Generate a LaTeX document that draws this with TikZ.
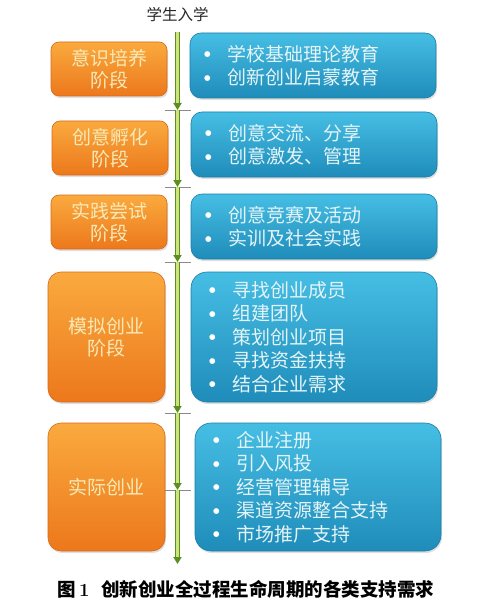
\documentclass[tikz,border=0pt]{standalone}
\usepackage{fontspec}
\newfontfamily\cjk{Noto Sans CJK SC}
\newfontfamily\djv{DejaVu Sans}
\usetikzlibrary{arrows.meta,shadows}
\definecolor{orTop}{HTML}{FAAA3E}
\definecolor{orBot}{HTML}{EC781C}
\definecolor{orEdge}{HTML}{D96A1A}
\definecolor{blTop}{HTML}{46BEE4}
\definecolor{blBot}{HTML}{1F8CBA}
\definecolor{blEdge}{HTML}{1A7EA8}
\definecolor{orText}{HTML}{F8EAB8}
\definecolor{blText}{HTML}{E4F4F7}
\definecolor{lineDark}{HTML}{5E8E22}
\definecolor{lineLight}{HTML}{CBE47C}
\definecolor{tickGray}{HTML}{8A8A8A}
\newcommand{\bul}{\makebox[23pt][l]{\raisebox{4.5pt}{\color{white}\djv\fontsize{7.5}{8}\selectfont ●}}}
\begin{document}
\begin{tikzpicture}[x=1pt,y=-1pt,
  orbox/.style={rounded corners=#1, top color=orTop, bottom color=orBot, draw=orEdge, line width=0.6pt,
    drop shadow={shadow xshift=1pt, shadow yshift=-2pt, opacity=0.25},
    text=orText, align=center, inner sep=0pt,
    font=\cjk\fontsize{19}{22}\selectfont},
  blbox/.style={rounded corners=#1, top color=blTop, bottom color=blBot, draw=blEdge, line width=0.6pt,
    drop shadow={shadow xshift=1pt, shadow yshift=-2pt, opacity=0.25},
    text=blText, align=left, inner ysep=0pt,
    font=\cjk\fontsize{19}{23.5}\selectfont},
  outerL/.style={line width=4.2pt, lineDark, -{Triangle[length=7pt,width=8pt]}},
  innerL/.style={line width=2.2pt, lineLight, shorten >=7pt},
  tickline/.style={tickGray, line width=0.7pt}
]
\useasboundingbox[fill=white] (0,0) rectangle (500,604);

\node[font=\cjk\fontsize{15.5}{16}\selectfont, text=black!85] (title) at (177.5,15) {学生入学};

% orange stage boxes
\node[orbox=8pt, minimum width=116pt, minimum height=54pt] (o1) at (109,69) {意识培养\\阶段};
\node[orbox=8pt, minimum width=116pt, minimum height=54pt] (o2) at (110,148) {创意孵化\\阶段};
\node[orbox=8pt, minimum width=116pt, minimum height=54pt] (o3) at (109,222) {实践尝试\\阶段};
\node[orbox=13pt, minimum width=117pt, minimum height=130pt] (o4) at (106.5,337) {模拟创业\\阶段};
\node[orbox=13pt, minimum width=117pt, minimum height=128pt] (o5) at (106.5,487) {实际创业};

% blue support boxes
\node[blbox=11pt, minimum width=246pt, minimum height=65pt, inner xsep=14pt, text width=218pt] (b1) at (313,65.5)
  {\bul 学校基础理论教育\\\bul 创新创业启蒙教育};
\node[blbox=11pt, minimum width=246pt, minimum height=65pt, inner xsep=14pt, text width=218pt] (b2) at (314,144.5)
  {\bul 创意交流、分享\\\bul 创意激发、管理};
\node[blbox=11pt, minimum width=246pt, minimum height=65pt, inner xsep=14pt, text width=218pt] (b3) at (314,226.5)
  {\bul 创意竞赛及活动\\\bul 实训及社会实践};
\node[blbox=16pt, minimum width=246pt, minimum height=130pt, inner xsep=18pt, text width=210pt] (b4) at (314,337)
  {\bul 寻找创业成员\\\bul 组建团队\\\bul 策划创业项目\\\bul 寻找资金扶持\\\bul 结合企业需求};
\node[blbox=16pt, minimum width=246pt, minimum height=128pt, inner xsep=18pt, text width=210pt] (b5) at (318,487)
  {\bul 企业注册\\\bul 引入风投\\\bul 经营管理辅导\\\bul 渠道资源整合支持\\\bul 市场推广支持};

% timeline
\coordinate (t0) at (177.5,32);
\coordinate (t1) at (177.5,110);
\coordinate (t2) at (177.5,187);
\coordinate (t3) at (177.5,262);
\coordinate (t4) at (177.5,413);
\coordinate (t5) at (177.5,490);
\coordinate (t6) at (177.5,564);
\foreach \t in {t1,t2,t3,t4,t5}{
  \draw[tickline] ([xshift=-13pt]\t) -- ([xshift=13pt]\t);
}
\foreach \a/\b in {t0/t1,t1/t2,t2/t3,t3/t4,t4/t5,t5/t6}{
  \draw[outerL] (\a) -- (\b);
  \draw[innerL] (\a) -- (\b);
}

% caption
\node[anchor=west, font=\cjk\bfseries\fontsize{18.5}{20}\selectfont, text=black] (cap) at (54,589)
  {图\hspace{3pt}{\rmfamily\bfseries 1}\hspace{12pt}创新创业全过程生命周期的各类支持需求};
\end{tikzpicture}
\end{document}
